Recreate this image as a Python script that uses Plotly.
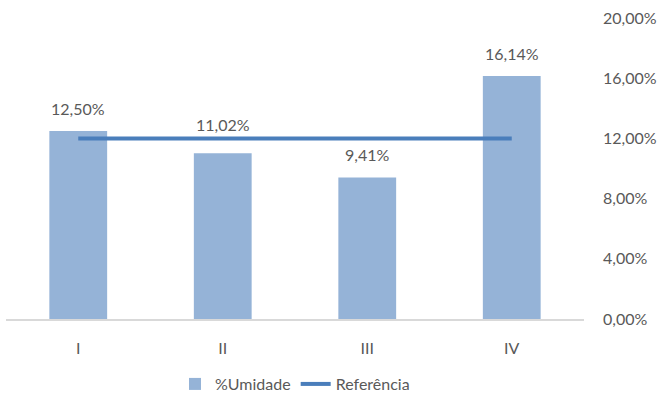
import plotly.graph_objects as go

categorias = ["I", "II", "III", "IV"]
umidade = [12.50, 11.02, 9.41, 16.14]
referencia = [12.0, 12.0, 12.0, 12.0]
y_ticks = [0, 4, 8, 12, 16, 20]

FONT = "Lato, 'Liberation Sans', sans-serif"
TXT = "#595959"

def pct(v):
    return f"{v:.2f}%".replace(".", ",")

fig = go.Figure()
fig.add_trace(go.Bar(
    x=categorias, y=umidade, name="%Umidade",
    marker=dict(color="#95B3D7", line=dict(width=0)),
))
fig.add_trace(go.Scatter(
    x=categorias, y=referencia, name="Referência", mode="lines",
    line=dict(color="#4A7EBB", width=4),
))

for c, v, r in zip(categorias, umidade, referencia):
    # labels that would collide with the reference line are lifted above it
    if v < r and r - v < 2:
        ya, ys = r, 2
    else:
        ya, ys = v, 11
    fig.add_annotation(
        x=c, y=ya, text=pct(v), showarrow=False,
        yanchor="bottom", yshift=ys, font=dict(size=16, color=TXT, family=FONT),
    )

fig.update_layout(
    width=670, height=406,
    margin=dict(l=6, r=86, t=18, b=86),
    paper_bgcolor="white", plot_bgcolor="white",
    bargap=0.6,
    font=dict(family=FONT, size=16, color=TXT),
    showlegend=True,
    legend=dict(orientation="h", x=0.5, xanchor="center", y=-0.212, yanchor="middle",
                font=dict(size=16, color=TXT, family=FONT)),
    xaxis=dict(showgrid=False, showline=True, linecolor="#D9D9D9", linewidth=1.5,
               ticks="", ticklabelstandoff=14, automargin=False,
               tickfont=dict(size=16, color=TXT)),
    yaxis=dict(side="right", range=[0, 20], tickvals=y_ticks,
               ticktext=[pct(t) for t in y_ticks],
               showgrid=False, showline=False, zeroline=False, automargin=False,
               ticks="", ticklabelstandoff=18, tickfont=dict(size=16, color=TXT)),
)

fig.write_html("out.html")
